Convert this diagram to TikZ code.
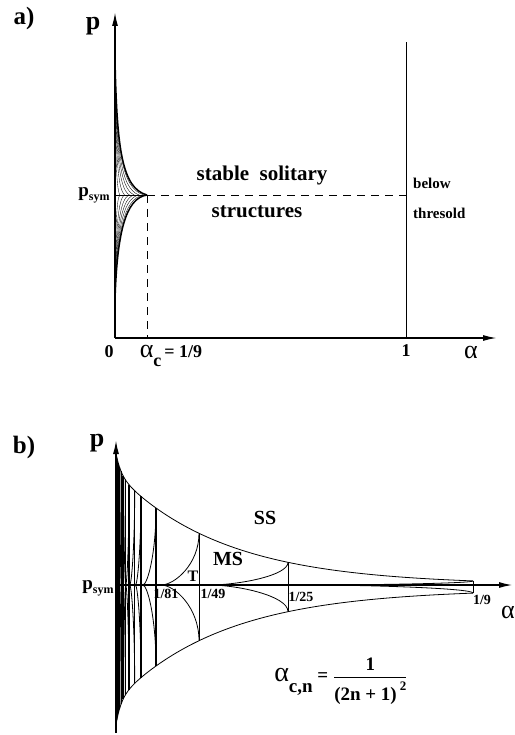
\documentclass[tikz,border=0pt]{standalone}
\usepackage{amsmath}
\usepackage{fontspec}
\setmainfont{Liberation Serif}
\usetikzlibrary{arrows.meta}

% greek alpha as printed in the figure
\newcommand\alf[1][26]{{\fontsize{#1}{#1}\selectfont\mdseries α}}
\newcommand\psym[1][19]{{\fontsize{#1}{#1}\selectfont p}\raisebox{-0.45ex}{\fontsize{12}{12}\selectfont sym}}

\begin{document}
\begin{tikzpicture}[x=1pt,y=-1pt,
    axisline/.style={line width=1.6pt,-{Latex[length=14pt,width=6pt]}},
    thinline/.style={line width=0.7pt},
    cusp/.style={line width=1.5pt},
    hatch/.style={line width=0.35pt},
    cell/.style={line width=0.8pt},
    lbl/.style={font=\bfseries\fontsize{18}{18}\selectfont,inner sep=0pt},
    small/.style={font=\bfseries\fontsize{14}{14}\selectfont,inner sep=0pt},
    declare function={hu(\d)=77*exp(-(\d-40)/108)+20*exp(-\d/5);
                      hl(\d)=hu(\d)+4+4*exp(-\d/5);}]
\useasboundingbox (0,0) rectangle (514,735);

% ---------- a)
\coordinate (Ao) at (115,338);
\coordinate (Ay) at (115,12);
\coordinate (Ax) at (497,338);
\coordinate (Ac) at (147,195);
\coordinate (Aone) at (406,338);
\coordinate (Aonetop) at (406,42);

\foreach \f in {0.15,0.3,0.45,0.6,0.75,0.9}{
    \draw[hatch] (115,60) .. controls ({115+2*\f},150) and ({115+7*\f},188) .. ({115+32*\f},195);
    \draw[hatch] (115,300) .. controls ({115+2*\f},235) and ({115+9*\f},198) .. ({115+32*\f},195);
}
\draw[hatch] (115,195) -- (Ac);
\draw[cusp] (115,60) .. controls (117,150) and (122,188) .. (Ac);
\draw[cusp] (Ac) .. controls (125,198) and (117,235) .. (115,300);
\draw[line width=0.9pt,dash pattern=on 8pt off 6pt] (Ac) -- (406,195);
\draw[line width=0.9pt,dash pattern=on 8pt off 6pt] (Ac) -- (147,338);
\draw[thinline] (Aone) -- (Aonetop);
\draw[axisline] (Ao) -- (Ay);
\draw[axisline] (Ao) -- (Ax);

\node[lbl,font=\bfseries\fontsize{25}{25}\selectfont] (ta) at (24,18) {a)};
\node[lbl,font=\bfseries\fontsize{26}{26}\selectfont] (pa) at (93,26) {p};
\node[lbl] (psa) at (94,195) {\psym};
\node[lbl] (zero) at (109,352) {0};
\node[lbl] (alc) at (171,356) {\alf\raisebox{-1.1ex}{c}\,= 1/9};
\node[lbl] (one) at (406,351) {1};
\node[lbl] (ala) at (471,352) {\alf};
\node[lbl,font=\bfseries\fontsize{21}{21}\selectfont] (stab) at (262,175) {stable\ \ solitary};
\node[lbl,font=\bfseries\fontsize{21}{21}\selectfont] (struc) at (257,212) {structures};
\node[small,font=\bfseries\fontsize{15}{15}\selectfont,anchor=west] (below) at (413,183) {below};
\node[small,font=\bfseries\fontsize{15}{15}\selectfont,anchor=west] (thres) at (413,213) {thresold};

% ---------- b)
\coordinate (Bo) at (116,585);
\coordinate (By) at (116,440);
\coordinate (Bbot) at (116,733);
\coordinate (Bx) at (513,585);

\foreach \d in {0.5,0.9,1.3}{
    \draw[gray!60,line width=0.3pt] ({116+\d},{585-hu(\d)}) -- ({116+\d},{585+hl(\d)});
}
\draw[line width=0.8pt] plot[domain=0.3:357,samples=220,variable=\d] ({116+\d},{585-hu(\d)});
\draw[line width=0.8pt] plot[domain=0.3:357,samples=220,variable=\d] ({116+\d},{585+hl(\d)});

\foreach \d/\w in {357/0.7,172/0.7,83/0.7,40/1.1,25/1.2,18.7/1.2,13/1.2,9.3/1.1,7/1.1,5/1,3.6/1,2.5/0.9,1.7/0.9}{
    \draw[line width=\w pt] ({116+\d},{585-hu(\d)}) -- ({116+\d},{585+hl(\d)});
}

\foreach \a/\b in {357/172,172/83,83/40,40/25,25/18.7,18.7/13,13/9.3,9.3/7,7/5,5/3.6,3.6/2.5,2.5/1.7}{
    \pgfmathsetmacro\xs{116+\a}
    \pgfmathsetmacro\ys{585-hu(\a)}
    \pgfmathsetmacro\yb{585+hl(\a)}
    \pgfmathsetmacro\xe{116+\b+0.12*(\a-\b)}
    \pgfmathsetmacro\xc{\xe+0.35*(\xs-\xe)}
    \pgfmathsetmacro\yc{585-0.4*hu(\a)}
    \pgfmathsetmacro\ycb{585+0.4*hl(\a)}
    \draw[cell] (\xs,\ys) .. controls (\xs,\yc) and (\xc,585) .. (\xe,585);
    \draw[cell] (\xs,\yb) .. controls (\xs,\ycb) and (\xc,585) .. (\xe,585);
}

\draw[line width=1.8pt] (Bo) -- (Bbot);
\draw[axisline] (Bo) -- (By);
\draw[axisline,line width=1.8pt] (Bo) -- (Bx);

\node[lbl,font=\bfseries\fontsize{25}{25}\selectfont] (tb) at (24,447) {b)};
\node[lbl,font=\bfseries\fontsize{26}{26}\selectfont] (pb) at (97,443) {p};
\node[lbl] (psb) at (98,588) {\psym};
\node[small] (l81) at (166,594) {1/81};
\node[small] (l49) at (213,594) {1/49};
\node[small] (l25) at (301,597) {1/25};
\node[small] (l9) at (482,600) {1/9};
\node[lbl] (alb) at (508,612) {\alf};
\node[lbl,font=\bfseries\fontsize{20}{20}\selectfont] (ss) at (265,518) {SS};
\node[lbl,font=\bfseries\fontsize{20}{20}\selectfont] (ms) at (228,559) {MS};
\node[small,font=\bfseries\fontsize{16}{16}\selectfont] (tt) at (193,576) {T};
\node[lbl,font=\bfseries\fontsize{19}{19}\selectfont] (form) at (341,681)
    {\alf[28]\raisebox{-1.2ex}{c,n}\ = $\genfrac{}{}{1.4pt}{0}{\mbox{\bfseries\fontsize{19}{19}\selectfont 1}}{\mbox{\bfseries\fontsize{19}{19}\selectfont (2n + 1)\,\raisebox{1.1ex}{\fontsize{13}{13}\selectfont 2}}}$};
\end{tikzpicture}
\end{document}
